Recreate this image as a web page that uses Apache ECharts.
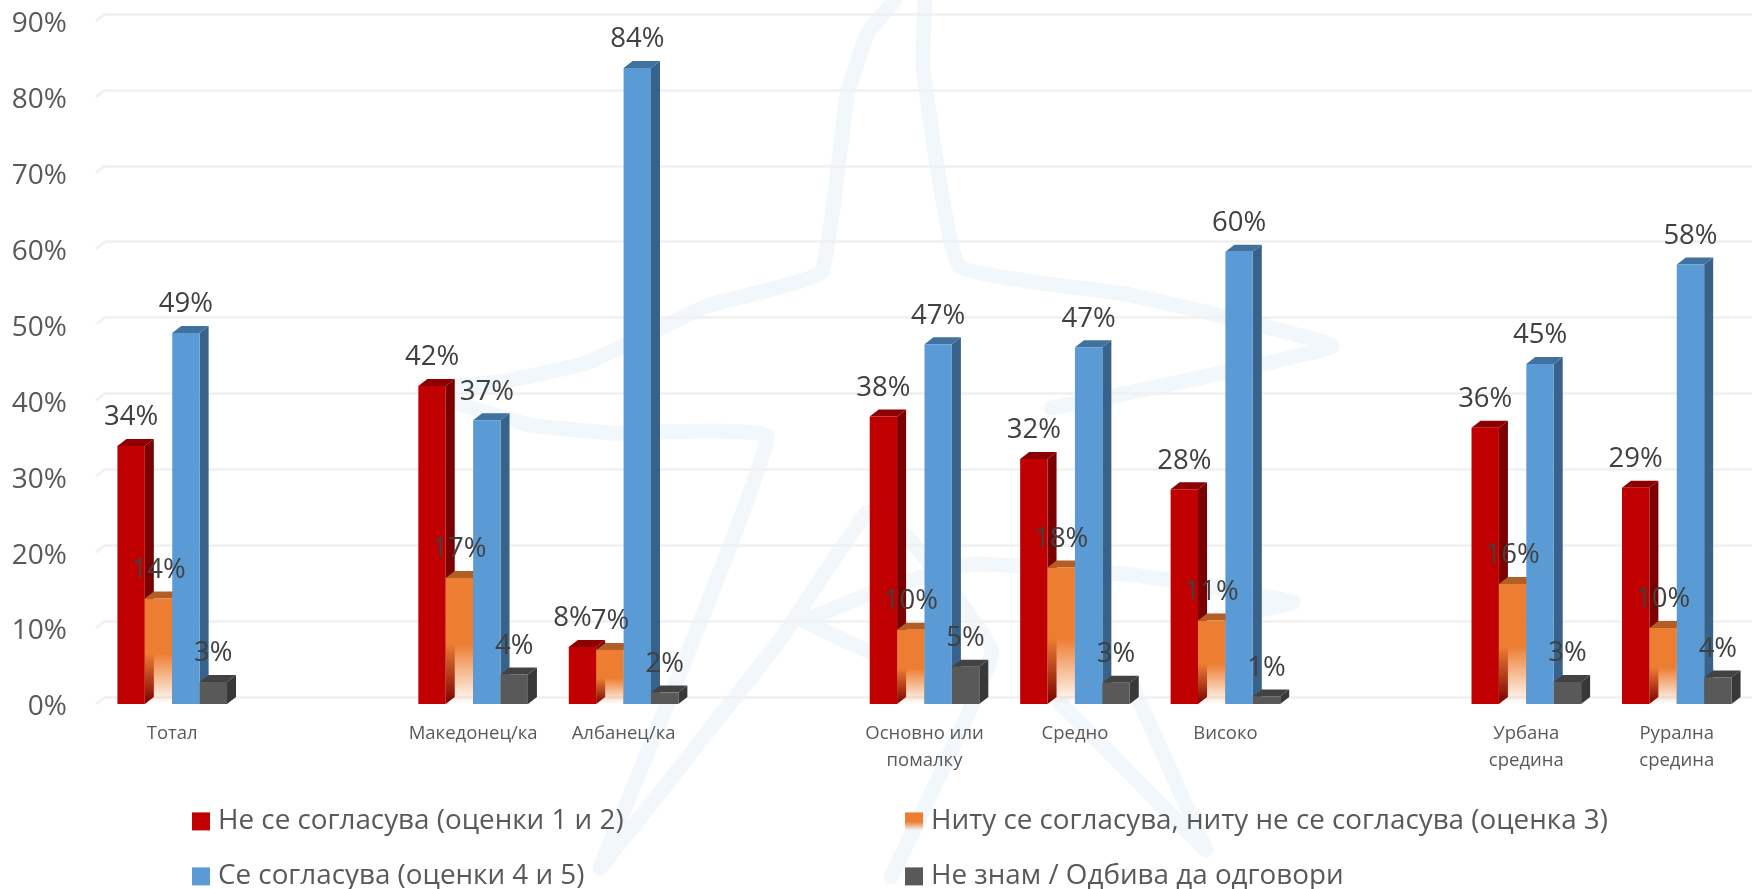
<!DOCTYPE html>
<html><head><meta charset="utf-8">
<style>html,body{margin:0;padding:0;background:#fff}#c{width:1752px;height:889px}</style>
<script src="https://cdn.jsdelivr.net/npm/echarts@6/dist/echarts.min.js"></script>
</head><body><div id="c"></div>
<script>
const categories = ['Тотал','','Македонец/ка','Албанец/ка','','Основно или\nпомалку','Средно','Високо','','Урбана\nсредина','Рурална\nсредина'];
const seriesNames = ['Не се согласува (оценки 1 и 2)','Ниту се согласува, ниту не се согласува (оценка 3)','Се согласува (оценки 4 и 5)','Не знам / Одбива да одговори'];
const disagree = [34.0,null,41.9,7.5,null,37.9,32.3,28.3,null,36.4,28.5];
const neutral  = [13.9,null,16.6,7.1,null,9.8,18.0,11.0,null,15.8,10.0];
const agree    = [48.9,null,37.4,83.8,null,47.4,47.0,59.6,null,44.8,57.9];
const dontKnow = [2.9,null,3.9,1.5,null,4.9,2.8,1.0,null,2.9,3.5];
const yTicks = [0,10,20,30,40,50,60,70,80,90];

// 3D look
const FONT = '"Open Sans", sans-serif';
const DX = 9, DY = 7, BAR = 27.4;
const orangeFade = {type:'linear',x:0,y:0,x2:0,y2:1,colorStops:[{offset:0,color:'#ED7D31'},{offset:.52,color:'#ED7D31'},{offset:1,color:'rgba(237,125,49,0)'}]};
const palette = [
  {front:'#C00000', side:'#7B0000', top:'#8E0000'},
  {front:orangeFade, side:'#A85A24', top:'#B25E25'},
  {front:'#5B9BD5', side:'#38628A', top:'#41719F'},
  {front:'#595959', side:'#383838', top:'#424242'}
];
const labelNudge = {'0:3':-10};

function barItem(si){
  return function(params, api){
    const v = api.value(1);
    if (isNaN(v)) return;
    const c = api.value(0);
    const top = api.coord([c, v]);
    const base = api.coord([c, 0]);
    const x = top[0] + (si-2)*BAR, y = top[1], y0 = base[1], p = palette[si];
    const nudge = labelNudge[si+':'+c] || 0;
    return {type:'group', children:[
      {type:'polygon', shape:{points:[[x+BAR,y],[x+BAR+DX,y-DY],[x+BAR+DX,y0-DY],[x+BAR,y0]]}, style:{fill:p.side}, z2:si*2},
      {type:'polygon', shape:{points:[[x,y],[x+DX,y-DY],[x+BAR+DX,y-DY],[x+BAR,y]]}, style:{fill:p.top}, z2:si*2},
      {type:'rect', shape:{x:x,y:y,width:BAR,height:y0-y}, style:{fill:p.front}, z2:si*2+1},
      {type:'text', x:x+BAR/2+nudge, y:y-28.5, z2:100, style:{text:Math.round(v)+'%', fill:'#404040', font:'27.5px '+FONT, align:'center', verticalAlign:'middle'}}
    ]};
  };
}
const values = [disagree, neutral, agree, dontKnow];
const barSeries = values.map((arr,si)=>({
  type:'custom', name:seriesNames[si], xAxisIndex:0, yAxisIndex:0, clip:false,
  itemStyle:{color: palette[si].front}, encode:{x:0,y:1},
  renderItem: barItem(si),
  data: arr.map((v,i)=>[i,v])
}));
const tickSeries = {
  type:'custom', silent:true, xAxisIndex:0, yAxisIndex:0, clip:false, encode:{x:0,y:1},
  renderItem:function(params, api){
    const p = api.coord([0, api.value(1)]);
    const x = params.coordSys.x;
    return {type:'line', shape:{x1:x-1,y1:p[1],x2:x+8,y2:p[1]-DY}, style:{stroke:'#f0f0f0',lineWidth:2.5}};
  },
  data: yTicks.map(t=>[0,t])
};

// pale star watermark behind the chart
const WM = [
  [[895,0],[867,34],[847,96],[821,272],[707,306],[586,363],[500,382],[423,388]],
  [[423,388],[456,403],[530,425],[613,433],[767,437],[600,868]],
  [[925,0],[923,68],[959,266],[1131,295],[1332,346],[1108,397],[1051,408]],
  [[600,868],[780,640],[868,512],[910,540],[992,652],[891,877]],
  [[804,621],[880,590],[972,564],[1133,575],[1293,602],[1201,622]],
  [[804,621],[871,652],[940,660]],
  [[1133,687],[1206,850]],
  [[1060,703],[1206,850]]
];
const watermark = WM.map(pts=>({
  type:'polyline', z:-1, silent:true,
  shape:{points:pts, smooth:0.1},
  style:{stroke:'#f2f7fc', lineWidth:15, lineCap:'round', lineJoin:'round', fill:null}
}));

function legendAt(left, top, si){
  return {orient:'horizontal', left:left, top:top, padding:0, itemWidth:18, itemHeight:18, icon:'rect',
    selectedMode:false, data:[{name:seriesNames[si]}],
    textStyle:{color:'#595959', fontSize:27.8, fontFamily:FONT, padding:[0,0,0,3]}};
}

const option = {
  animation:false,
  backgroundColor:'#fff',
  textStyle:{fontFamily:FONT},
  graphic:watermark,
  grid:[
    {left:97, top:21, width:1655, height:683, containLabel:false},
    {left:105, top:14, width:1660, height:683},
    {left:97, top:24.4, width:1655, height:683}
  ],
  xAxis:[
    {type:'category', gridIndex:0, data:categories, axisLine:{show:false}, axisTick:{show:false}, splitLine:{show:false},
     axisLabel:{interval:0, color:'#595959', fontSize:18.5, lineHeight:27, margin:16, fontFamily:FONT}},
    {type:'value', gridIndex:1, min:0, max:1, show:false},
    {type:'value', gridIndex:2, min:0, max:1, show:false}
  ],
  yAxis:[
    {type:'value', gridIndex:0, min:0, max:90, interval:10, show:false},
    {type:'value', gridIndex:1, min:0, max:90, interval:10, axisLine:{show:false}, axisTick:{show:false}, axisLabel:{show:false},
     splitLine:{show:true, lineStyle:{color:'#f0f0f0', width:2.5}}},
    {type:'value', gridIndex:2, min:0, max:90, interval:10, axisLine:{show:false}, axisTick:{show:false}, splitLine:{show:false},
     axisLabel:{formatter:'{value}%', color:'#595959', fontSize:28, margin:30, fontFamily:FONT}}
  ],
  legend:[
    legendAt(192,807.4,0), legendAt(905,807.4,1), legendAt(192,862.4,2), legendAt(905,862.4,3)
  ],
  series:[tickSeries].concat(barSeries)
};
echarts.init(document.getElementById('c'),null,{renderer:'canvas'}).setOption(option);
</script></body></html>
